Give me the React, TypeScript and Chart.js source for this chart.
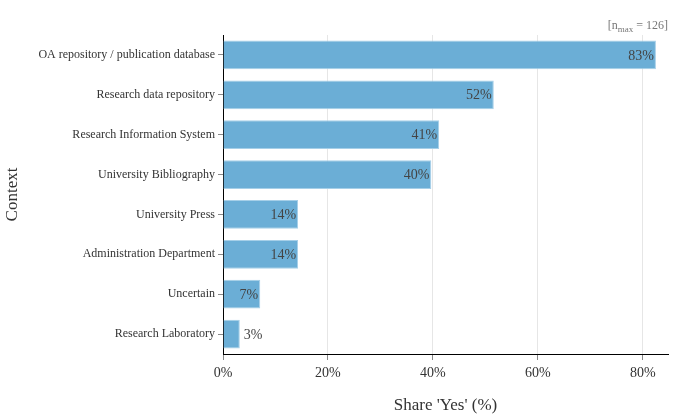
import React, { useEffect, useRef } from 'react';
import Chart from 'chart.js/auto';

const categories = [
  'OA repository / publication database',
  'Research data repository',
  'Research Information System',
  'University Bibliography',
  'University Press',
  'Administration Department',
  'Uncertain',
  'Research Laboratory',
];
const shareYes = [82.5, 51.6, 41.2, 39.7, 14.3, 14.3, 7.1, 3.2];
const shareLabels = ['83%', '52%', '41%', '40%', '14%', '14%', '7%', '3%'];
const xTicks = [0, 20, 40, 60, 80];

const FONT = "'Liberation Serif', 'Times New Roman', serif";

const labelPlugin = {
  id: 'barLabels',
  afterDatasetsDraw(chart: any) {
    const { ctx } = chart;
    const meta = chart.getDatasetMeta(0);
    ctx.save();
    ctx.font = `14px ${FONT}`;
    ctx.fillStyle = '#444';
    ctx.textBaseline = 'middle';
    meta.data.forEach((bar: any, i: number) => {
      const v = shareYes[i];
      if (v >= 5) {
        ctx.textAlign = 'right';
        ctx.fillText(shareLabels[i], bar.x - 2, bar.y + 1);
      } else {
        ctx.textAlign = 'left';
        ctx.fillText(shareLabels[i], bar.x + 4, bar.y + 1);
      }
    });
    // n annotation
    const right = chart.chartArea.right;
    const y = 25;
    ctx.fillStyle = '#777';
    ctx.textAlign = 'left';
    ctx.textBaseline = 'alphabetic';
    const p1 = '[n';
    const sub = 'max';
    const p2 = ' = 126]';
    ctx.font = `12px ${FONT}`;
    const w1 = ctx.measureText(p1).width;
    const w3 = ctx.measureText(p2).width;
    ctx.font = `9px ${FONT}`;
    const w2 = ctx.measureText(sub).width;
    let x = right - (w1 + w2 + w3);
    ctx.font = `12px ${FONT}`;
    ctx.fillText(p1, x, y + 4);
    x += w1;
    ctx.font = `9px ${FONT}`;
    ctx.fillText(sub, x, y + 7);
    x += w2;
    ctx.font = `12px ${FONT}`;
    ctx.fillText(p2, x, y + 4);
    ctx.restore();
  },
};

const App: React.FC = () => {
  const chartRef = useRef<HTMLCanvasElement | null>(null);
  const chartInstanceRef = useRef<Chart | null>(null);

  useEffect(() => {
    const ctx = chartRef.current;
    if (!ctx) return;
    if (chartInstanceRef.current) chartInstanceRef.current.destroy();

    chartInstanceRef.current = new Chart(ctx, {
      type: 'bar',
      data: {
        labels: categories,
        datasets: [{
          data: shareYes,
          backgroundColor: '#6baed6',
          borderColor: '#a6cfe8',
          borderWidth: 1,
          barPercentage: 0.72,
          categoryPercentage: 1,
        }],
      },
      plugins: [labelPlugin],
      options: {
        indexAxis: 'y',
        animation: false,
        responsive: false,
        layout: { padding: { top: 35, right: 32, bottom: 0, left: 0 } },
        plugins: {
          legend: { display: false },
          tooltip: { enabled: false },
        },
        scales: {
          x: {
            min: 0,
            max: 84.8,
            afterBuildTicks: (scale: any) => {
              scale.ticks = xTicks.map((v) => ({ value: v }));
            },
            afterFit: (scale: any) => { scale.height = 66; },
            ticks: {
              callback: (v: any) => `${v}%`,
              color: '#333',
              font: { family: FONT, size: 14 },
              padding: 5,
              maxRotation: 0,
            },
            grid: {
              color: '#e6e6e6',
              tickColor: '#888',
              tickLength: 6,
            },
            border: { color: '#000', width: 1 },
            title: {
              display: true,
              text: "Share 'Yes' (%)",
              color: '#333',
              font: { family: FONT, size: 17 },
              padding: { top: 9 },
            },
          },
          y: {
            afterFit: (scale: any) => { scale.width = 223; },
            ticks: {
              color: '#333',
              font: { family: FONT, size: 12 },
              padding: 3,
            },
            grid: {
              offset: false,
              drawOnChartArea: false,
              tickColor: '#888',
              tickLength: 5,
            },
            border: { color: '#000', width: 1 },
            title: {
              display: true,
              text: 'Context',
              color: '#333',
              font: { family: FONT, size: 17 },
              padding: { top: 2 },
            },
          },
        },
      },
    });

    return () => {
      if (chartInstanceRef.current) chartInstanceRef.current.destroy();
    };
  }, []);

  return (
    <div style={{ position: 'fixed', left: 0, top: 0, width: 700, height: 420, background: '#fff' }}>
      <canvas ref={chartRef} width={700} height={420}></canvas>
    </div>
  );
};

export default App;
